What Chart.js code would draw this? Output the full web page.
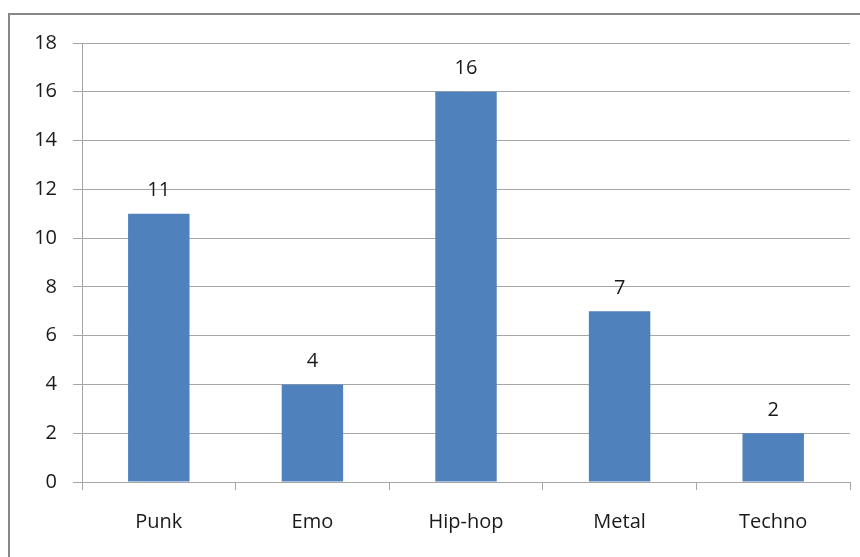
<!DOCTYPE html>
<html lang="en">
<head>
  <meta charset="UTF-8" />
  <title>Music genres</title>
  <script src="https://cdn.jsdelivr.net/npm/chart.js"></script>
  <style>
    html, body { margin: 0; padding: 0; background: #fff; overflow: hidden; }
    #frame {
      position: absolute; left: 8px; top: 13px; width: 900px; height: 600px;
      border: 2px solid #878787; box-sizing: border-box;
    }
    #wrap { position: absolute; left: 0; top: 0; width: 860px; height: 557px; }
  </style>
</head>
<body>
  <div id="frame"></div>
  <div id="wrap"><canvas id="genreChart" width="860" height="557"></canvas></div>

  <script>
    const genres = ['Punk', 'Emo', 'Hip-hop', 'Metal', 'Techno'];
    const counts = [11, 4, 16, 7, 2];
    const yTicks = [0, 2, 4, 6, 8, 10, 12, 14, 16, 18];

    const FONT = "'Open Sans', sans-serif";
    const TEXT = '#1a1a1a';
    const GRID = '#a6a6a6';

    // value labels above the bars (no datalabels plugin offline)
    const barValues = {
      id: 'barValues',
      afterDatasetsDraw(chart) {
        const ctx = chart.ctx;
        const meta = chart.getDatasetMeta(0);
        ctx.save();
        ctx.font = '20px ' + FONT;
        ctx.fillStyle = TEXT;
        ctx.textAlign = 'center';
        ctx.textBaseline = 'bottom';
        meta.data.forEach((bar, i) => {
          ctx.fillText(String(counts[i]), bar.x, bar.y - 13);
        });
        ctx.restore();
      }
    };

    new Chart(document.getElementById('genreChart'), {
      type: 'bar',
      data: {
        labels: genres,
        datasets: [{
          data: counts,
          backgroundColor: '#4f81bd',
          borderWidth: 0,
          barPercentage: 0.4,
          categoryPercentage: 1.0
        }]
      },
      options: {
        responsive: false,
        animation: false,
        layout: { padding: { top: 43, right: 10, left: 0, bottom: 0 } },
        plugins: {
          legend: { display: false },
          tooltip: { enabled: false }
        },
        scales: {
          x: {
            afterFit: s => { s.height = 75; },
            grid: {
              offset: true,
              drawOnChartArea: false,
              drawTicks: true,
              tickLength: 8,
              color: GRID
            },
            border: { display: true, color: GRID, width: 1 },
            ticks: {
              padding: 20,
              color: TEXT,
              font: { family: FONT, size: 20 }
            }
          },
          y: {
            min: 0,
            max: 18,
            afterFit: s => { s.width = 82; },
            afterBuildTicks: s => { s.ticks = yTicks.map(v => ({ value: v })); },
            grid: {
              color: GRID,
              tickLength: 9,
              drawTicks: true
            },
            border: { display: true, color: GRID, width: 1 },
            ticks: {
              padding: 16,
              color: TEXT,
              font: { family: FONT, size: 20 }
            }
          }
        }
      },
      plugins: [barValues]
    });
  </script>
</body>
</html>
